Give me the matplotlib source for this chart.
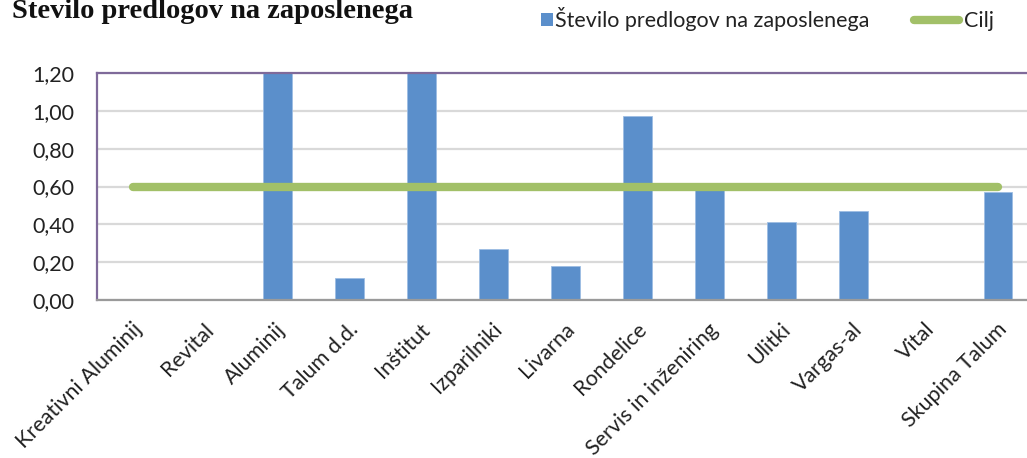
import matplotlib
matplotlib.use("Agg")
import matplotlib.pyplot as plt
import matplotlib.transforms as mtransforms
from matplotlib.lines import Line2D
from matplotlib.patches import Rectangle
from matplotlib.ticker import FuncFormatter

# podatki
enote = ["Kreativni Aluminij", "Revital", "Aluminij", "Talum d.d.", "Inštitut",
         "Izparilniki", "Livarna", "Rondelice", "Servis in inženiring", "Ulitki",
         "Vargas-al", "Vital", "Skupina Talum"]
predlogi = [0.0, 0.0, 1.45, 0.115, 1.60, 0.27, 0.178, 0.974, 0.59, 0.411, 0.469, 0.0, 0.572]
cilj = [0.6] * len(enote)

modra = "#5b8fcb"
zelena = "#a2c068"
W, H = 1027, 458

plt.rcParams["font.family"] = ["Lato", "DejaVu Sans"]

fig = plt.figure(figsize=(W / 100, H / 100), dpi=100)
ax = fig.add_axes([97 / W, 1 - 300 / H, 937 / W, 227 / H])

x = list(range(len(enote)))
ax.bar(x, predlogi, width=0.4, color=modra, edgecolor="#9dbde3", linewidth=0.6, zorder=2)
ax.plot(x, cilj, color=zelena, linewidth=6, solid_capstyle="round", zorder=3)

ax.set_xlim(-0.5, len(enote) - 0.5)
ax.set_ylim(0, 1.2)
ax.set_yticks([0, 0.2, 0.4, 0.6, 0.8, 1.0, 1.2])
ax.yaxis.set_major_formatter(FuncFormatter(lambda v, p: f"{v:.2f}".replace(".", ",")))
ax.grid(axis="y", color="#d9d9d9", linewidth=1.6, zorder=0)
ax.set_axisbelow(True)

ax.spines["left"].set_color("#7f6a9a")
ax.spines["top"].set_color("#7f6a9a")
ax.spines["bottom"].set_color("#9a9a9a")
ax.spines["right"].set_visible(False)
for s in ["left", "top", "bottom"]:
    ax.spines[s].set_linewidth(1.6)

fs = 15.5
ax.tick_params(axis="y", length=0, pad=16, labelsize=fs, labelcolor="#222222")
ax.tick_params(axis="x", length=0, pad=19)
ax.set_xticks(x)
ax.set_xticklabels(enote, rotation=45, ha="right", va="center",
                   rotation_mode="anchor", fontsize=fs, color="#222222")
offset = mtransforms.ScaledTranslation(4 / 72, 0, fig.dpi_scale_trans)
for lbl in ax.get_xticklabels():
    lbl.set_transform(lbl.get_transform() + offset)

fig.text(12 / W, 1 - 18 / H, "Število predlogov na zaposlenega",
         family="Liberation Serif", weight="bold", fontsize=20.5, va="baseline", color="#111111")

# legenda
fig.patches.append(Rectangle((541 / W, 1 - 26 / H), 12 / W, 13 / H, transform=fig.transFigure,
                             facecolor=modra, edgecolor="none"))
fig.text(555 / W, 1 - 27 / H, "Število predlogov na zaposlenega", fontsize=fs,
         va="baseline", color="#222222")
fig.lines.append(Line2D([914 / W, 959 / W], [1 - 20 / H, 1 - 20 / H], transform=fig.transFigure,
                        color=zelena, linewidth=6, solid_capstyle="round"))
fig.text(964 / W, 1 - 27 / H, "Cilj", fontsize=fs, va="baseline", color="#222222")

fig.savefig("out.png", dpi=100)
